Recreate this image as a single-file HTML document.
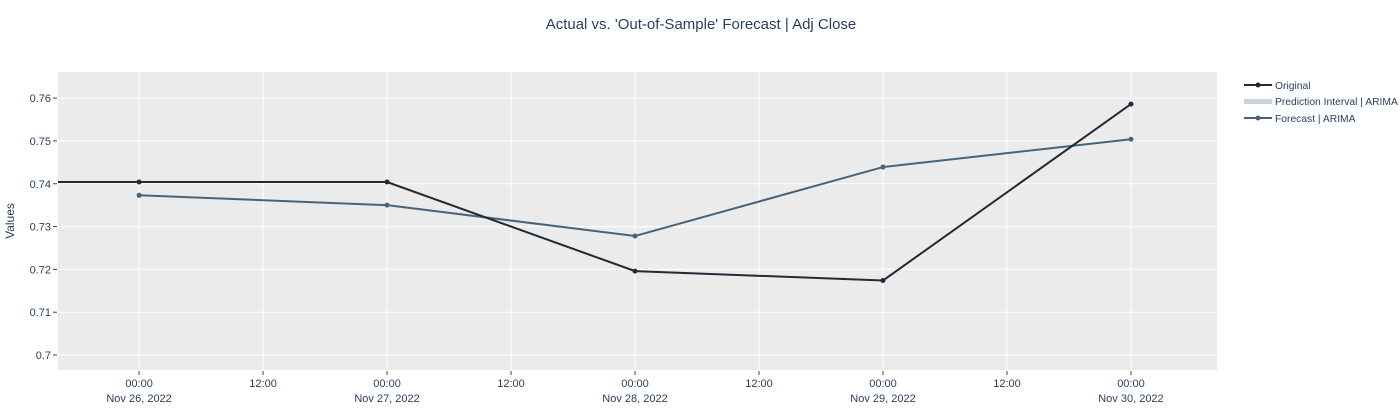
<!DOCTYPE html>
<html><head><meta charset="utf-8"><style>
body{margin:0;background:#fff;font-family:"Liberation Sans",sans-serif;}
svg text{font-family:"Liberation Sans",sans-serif;fill:#2a3f5f;}
</style></head><body>
<svg id="chart" width="1400" height="406">
<text x="701" y="29" text-anchor="middle" font-size="15">Actual vs. 'Out-of-Sample' Forecast | Adj Close</text>
<rect x="58" y="72" width="1159" height="298" fill="#ebebeb"/>
<g id="grid"></g><g id="axes"></g><g id="series"></g>
<text transform="translate(14,221) rotate(-90)" text-anchor="middle" font-size="12">Values</text>
<g>
<g><line x1="1244" x2="1272" y1="85" y2="85" stroke="#1f2a36" stroke-width="2"/><circle cx="1258" cy="85" r="2.5" fill="#1f2a36"/><text x="1275" y="89" font-size="10.3">Original</text></g>
<g><rect x="1244" y="99" width="28" height="5" fill="#c9d3db"/><text x="1275" y="105" font-size="10.3">Prediction Interval | ARIMA</text></g>
<g><line x1="1244" x2="1272" y1="118" y2="118" stroke="#4a6378" stroke-width="2"/><circle cx="1258" cy="118" r="2.5" fill="#4a6378"/><text x="1275" y="122" font-size="10.3">Forecast | ARIMA</text></g>
</g>
</svg>
<script>
const dayOffsets=[-1,0,1,2,3,4];
const originalValues=[0.7404,0.7404,0.7404,0.7196,0.7174,0.7586];
const forecastDays=[0,1,2,3,4];
const forecastValues=[0.7373,0.7350,0.7278,0.7439,0.7504];
const yTicks=[0.70,0.71,0.72,0.73,0.74,0.75,0.76];
const yTickLabels=["0.7","0.71","0.72","0.73","0.74","0.75","0.76"];
const xTicks=[0,0.5,1,1.5,2,2.5,3,3.5,4];
const xTickLabels=["00:00|Nov 26, 2022","12:00","00:00|Nov 27, 2022","12:00","00:00|Nov 28, 2022","12:00","00:00|Nov 29, 2022","12:00","00:00|Nov 30, 2022"];
const L=58,R=1217,T=72,B=370,xMin=-0.327,xMax=4.347,yMin=0.6965,yMax=0.7661;
const X=d=>L+(d-xMin)/(xMax-xMin)*(R-L);
const Y=v=>B-(v-yMin)/(yMax-yMin)*(B-T);
const NS="http://www.w3.org/2000/svg";
function mk(t,a,p){const e=document.createElementNS(NS,t);for(const k in a)e.setAttribute(k,a[k]);p.appendChild(e);return e;}
const grid=document.getElementById('grid'),axes=document.getElementById('axes'),ser=document.getElementById('series');
yTicks.forEach((v,i)=>{
 const l=mk('line',{x1:L,x2:R,y1:Y(v),y2:Y(v),stroke:'#fff','stroke-width':1},grid);
 
 
 mk('line',{x1:L-5,x2:L-1,y1:Y(v),y2:Y(v),stroke:'#444'},axes);
 const t=mk('text',{x:L-7,y:Y(v)+4,'text-anchor':'end','font-size':11},axes);t.textContent=yTickLabels[i];
 
 
});
xTicks.forEach((d,i)=>{
 const l=mk('line',{x1:X(d),x2:X(d),y1:T,y2:B,stroke:'#fff','stroke-width':1},grid);
 
 
 mk('line',{x1:X(d),x2:X(d),y1:B+1,y2:B+5,stroke:'#444'},axes);
 const parts=xTickLabels[i].split('|');
 parts.forEach((p,j)=>{const t=mk('text',{x:X(d),y:B+17+j*15,'text-anchor':'middle','font-size':11},axes);t.textContent=p;
 
 });
});
const clip=mk('clipPath',{id:'c'},document.getElementById('chart'));mk('rect',{x:L,y:T,width:R-L,height:B-T},clip);
function line(xs,vs,col,name){
 const g=mk('g',{'clip-path':'url(#c)'},ser);
 
 
 mk('polyline',{points:xs.map((d,i)=>X(d)+','+Y(vs[i])).join(' '),fill:'none',stroke:col,'stroke-width':2},g);
 xs.forEach((d,i)=>{const c=mk('circle',{cx:X(d),cy:Y(vs[i]),r:2.5,fill:col},g);
 
 });
}
line(forecastDays,forecastValues,'#4a6378','forecast-line');
line(dayOffsets,originalValues,'#1f2a36','original-line');
</script>
</body></html>
